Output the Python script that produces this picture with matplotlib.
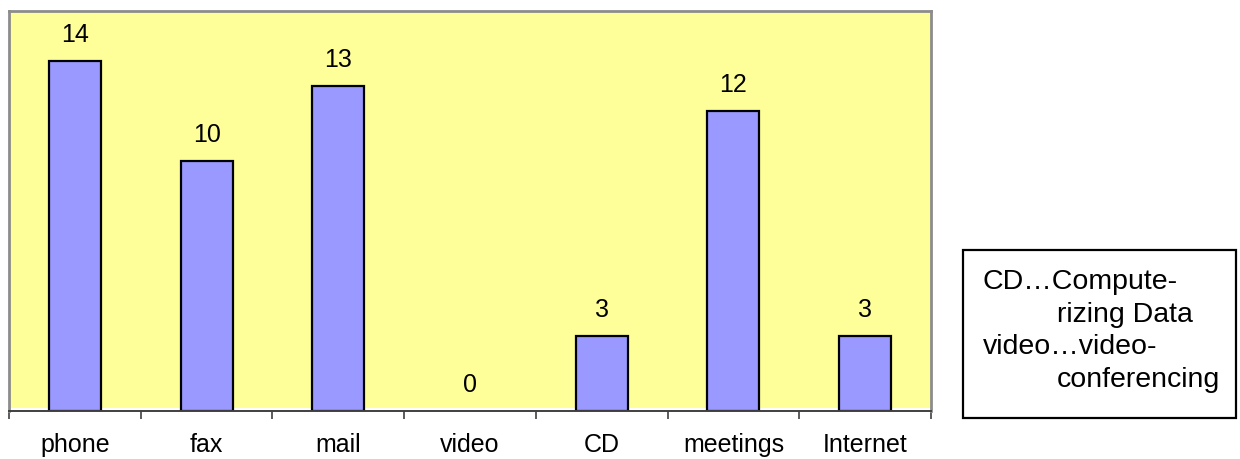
import matplotlib
matplotlib.use("Agg")
import matplotlib.pyplot as plt
from matplotlib.patches import Rectangle
import numpy as np

categories = ["phone", "fax", "mail", "video", "CD", "meetings", "Internet"]
values = [14, 10, 13, 0, 3, 12, 3]
note_lines = [("CD…Compute-", False), ("rizing Data", True),
              ("video…video-", False), ("conferencing", True)]

plt.rcParams["font.family"] = ["Liberation Sans", "DejaVu Sans"]

W, H = 1240, 459
fig = plt.figure(figsize=(W / 100, H / 100), dpi=100)

# axes spanning the plot area; y=0 sits on the category axis line
ax_left, ax_right, ax_top, ax_bot = 9, 931, 11, 411
ax = fig.add_axes([ax_left / W, 1 - ax_bot / H, (ax_right - ax_left) / W, (ax_bot - ax_top) / H])
ax.set_facecolor("none")

# yellow plot area, ending just above the axis line
ax.add_patch(Rectangle((0, 0.0075), 1, 0.9925, transform=ax.transAxes,
                       facecolor="#FFFF99", edgecolor="none", zorder=0))

x = np.arange(len(categories)) + 0.5
bars = ax.bar(x, values, width=0.395, color="#9999FF", edgecolor="black",
              linewidth=1.6, zorder=2)
for b, v in zip(bars, values):
    if v == 0:
        b.set_edgecolor("none")

for xi, v in zip(x, values):
    ax.annotate(str(v), (xi, v), xytext=(0, 14), textcoords="offset points",
                ha="center", va="baseline", fontsize=18, color="black")

ax.set_xlim(0, len(categories))
ax.set_ylim(0, 16)
ax.set_yticks([])

# category boundary ticks and centered labels
ax.set_xticks(np.arange(len(categories) + 1))
ax.set_xticklabels([])
ax.tick_params(axis="x", which="major", direction="out", length=6, width=1.2,
               color="#404040")
ax.set_xticks(x, minor=True)
ax.set_xticklabels(categories, minor=True)
ax.tick_params(axis="x", which="minor", length=0, pad=16, labelsize=18)

for side in ("left", "top", "right"):
    ax.spines[side].set_color("#8C8C8C")
    ax.spines[side].set_linewidth(2)
ax.spines["bottom"].set_color("#404040")
ax.spines["bottom"].set_linewidth(1.4)

# explanatory note box
bx0, bx1, by0, by1 = 963, 1236, 250, 418
fig.patches.append(Rectangle((bx0 / W, 1 - by1 / H), (bx1 - bx0) / W, (by1 - by0) / H,
                             transform=fig.transFigure, facecolor="white",
                             edgecolor="black", linewidth=1.6))
line_y = [282, 315, 347, 380]
for (txt, indent), yy in zip(note_lines, line_y):
    xx = 1057 if indent else 983
    fig.text(xx / W, 1 - yy / H, txt, ha="left", va="center", fontsize=20.5, color="black")

fig.savefig("out.png", dpi=100)
